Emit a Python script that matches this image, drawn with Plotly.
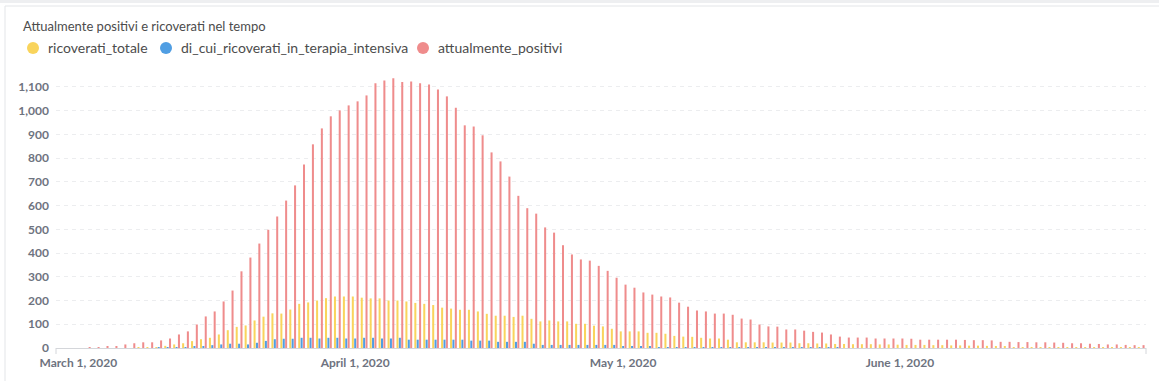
import pandas as pd
import plotly.graph_objects as go

# ---------------- data ----------------
dates = pd.date_range("2020-02-28", "2020-06-28", freq="D")

ricoverati_totale = [
    0, 0, 0, 0, 0, 0, 0, 0, 0,
    1, 2, 3, 9,
    15, 20, 29, 37, 43, 57, 75, 89, 95, 116,
    132, 146, 145, 162, 186, 192, 200, 210, 217, 217,
    217, 212, 209, 209, 200, 200, 196, 190, 186, 181,
    170, 166, 161, 161, 154, 144, 136, 136, 131, 136,
    123, 112, 116, 112, 112, 102, 102, 94, 91, 81,
    70, 70, 70, 64, 64, 60, 51, 48, 47, 43,
    40, 40, 35, 24, 24, 24, 24, 23, 23, 23,
    20, 20, 19, 19, 17, 17, 16, 16, 16, 15,
    15, 14, 13, 13, 13, 12, 12, 11, 11, 10,
    10, 9, 5, 5, 4, 4, 4, 4, 3, 3,
    3, 3, 3, 2, 2, 2, 2, 2, 2,
]

terapia_intensiva = [
    0, 0, 0, 0, 0, 0, 0, 0, 0, 0, 0,
    1, 2,
    3, 3, 8, 8, 12, 15, 18, 18, 15, 22,
    30, 37, 39, 39, 43, 43, 40, 43, 43, 40,
    40, 43, 43, 40, 40, 43, 35, 35, 35, 35,
    35, 35, 35, 31, 31, 31, 26, 26, 26, 26,
    18, 13, 13, 13, 13, 13, 13, 13, 13, 13,
    6, 6, 6, 6, 3, 3, 3, 1, 1, 1,
    1, 1, 1, 1, 1, 1, 1, 1, 1, 1,
    1, 1, 1, 1, 1, 0, 0, 0, 0, 0,
    0, 0, 0, 0, 0, 0, 0, 0, 0, 0,
    0, 0, 0, 0, 0, 0, 0, 0, 0, 0,
    0, 0, 0, 0, 0, 0, 0, 0, 0,
]

attualmente_positivi = [
    0, 0, 0,
    1, 3, 5, 8, 15, 20, 24, 24, 32, 40,
    57, 70, 99, 133, 154, 196, 242, 323, 381, 440,
    498, 554, 621, 685, 773, 858, 925, 976, 1001, 1022,
    1039, 1064, 1115, 1127, 1136, 1120, 1123, 1115, 1110, 1089,
    1060, 1012, 938, 933, 896, 824, 786, 722, 641, 589,
    566, 508, 486, 433, 394, 373, 368, 346, 325, 296,
    267, 254, 234, 225, 217, 213, 191, 174, 158, 154,
    145, 145, 140, 124, 120, 99, 91, 90, 78, 78,
    73, 68, 65, 57, 48, 44, 44, 44, 40, 40,
    40, 40, 39, 35, 35,
    35, 35, 35, 34, 33, 33, 32, 26, 26, 25,
    25, 24, 24, 23, 22, 20, 20, 18, 17, 15,
    15, 13, 12, 12,
]

series_names = ["ricoverati_totale", "di_cui_ricoverati_in_terapia_intensiva", "attualmente_positivi"]
series_values = [ricoverati_totale, terapia_intensiva, attualmente_positivi]
series_colors = ["#F9D45C", "#509EE3", "#EF8C8C"]

x_tick_vals = ["2020-03-01", "2020-04-01", "2020-05-01", "2020-06-01"]
x_tick_text = ["March 1, 2020", "April 1, 2020", "May 1, 2020", "June 1, 2020"]
y_tick_vals = list(range(0, 1200, 100))

title_text = "Attualmente positivi e ricoverati nel tempo"

# ---------------- geometry helpers (pixels -> paper) ----------------
W, H = 1159, 381
ML, MR, MT, MB = 56, 13, 75, 33
PW, PH = W - ML - MR, H - MT - MB


def px_x(px):
    return (px - ML) / PW


def px_y(py):
    return (H - MB - py) / PH


fig = go.Figure()

for name, vals, col in zip(series_names, series_values, series_colors):
    fig.add_trace(go.Bar(
        x=dates, y=vals, name=name, marker=dict(color=col, line=dict(width=0)),
        showlegend=False,
    ))

AX_FONT = dict(family="Lato, sans-serif", size=12, color="#6E7380", weight="bold")
TXT_COLOR = "#4C4C4C"

fig.update_layout(
    width=W, height=H,
    margin=dict(l=ML, r=MR, t=MT, b=MB, autoexpand=False),
    paper_bgcolor="white", plot_bgcolor="white",
    barmode="group", bargap=0.2, bargroupgap=0.15,
    font=dict(family="Lato, sans-serif", color=TXT_COLOR),
    title=dict(
        text=title_text, x=23 / W, xanchor="left", xref="container",
        y=1 - 26 / H, yanchor="middle", yref="container",
        font=dict(family="Lato, sans-serif", size=13, color=TXT_COLOR),
    ),
    showlegend=False,
    xaxis=dict(
        type="date",
        range=["2020-02-27 12:00", "2020-06-28 13:00"],
        tickmode="array", tickvals=x_tick_vals, ticktext=x_tick_text,
        tickfont=AX_FONT, showgrid=False, zeroline=False,
        showline=True, linecolor="#D4D6DA", linewidth=1,
        ticks="", ticklabelstandoff=4,
    ),
    yaxis=dict(
        range=[0, 1150], tickmode="array", tickvals=y_tick_vals,
        tickformat=",", tickfont=AX_FONT,
        showgrid=True, gridcolor="#ECEDEF", griddash="4px,4px", gridwidth=1,
        zeroline=False, showline=False, ticks="", ticklabelstandoff=6,
    ),
)

# legend drawn as round dots + labels (Metabase style)
legend_dot_px = [33, 166, 423]
legend_y_px = 48
shapes = []
annotations = []
for name, col, dx in zip(series_names, series_colors, legend_dot_px):
    r = 6
    shapes.append(dict(
        type="circle", xref="paper", yref="paper",
        x0=px_x(dx - r), x1=px_x(dx + r), y0=px_y(legend_y_px + r), y1=px_y(legend_y_px - r),
        fillcolor=col, line=dict(width=0),
    ))
    annotations.append(dict(
        text=name, xref="paper", yref="paper", x=px_x(dx + 13), y=px_y(legend_y_px),
        xanchor="left", yanchor="middle", showarrow=False,
        font=dict(family="Lato, sans-serif", size=14, color=TXT_COLOR),
    ))

# card frame + axis end ticks
shapes += [
    dict(type="rect", xref="paper", yref="paper",
         x0=px_x(5), x1=px_x(1170), y0=px_y(400), y1=px_y(6),
         line=dict(color="#E3E5E8", width=1), fillcolor="rgba(0,0,0,0)", layer="below"),
    dict(type="rect", xref="paper", yref="paper",
         x0=px_x(-5), x1=px_x(1170), y0=px_y(3), y1=px_y(-5),
         line=dict(width=0), fillcolor="#EEEFF1", layer="below"),
    dict(type="line", xref="paper", yref="paper",
         x0=0, x1=0, y0=0, y1=px_y(354), line=dict(color="#D4D6DA", width=1)),
    dict(type="line", xref="paper", yref="paper",
         x0=1, x1=1, y0=0, y1=px_y(354), line=dict(color="#D4D6DA", width=1)),
]
fig.update_layout(shapes=shapes, annotations=annotations)

fig.write_html("out.html")
